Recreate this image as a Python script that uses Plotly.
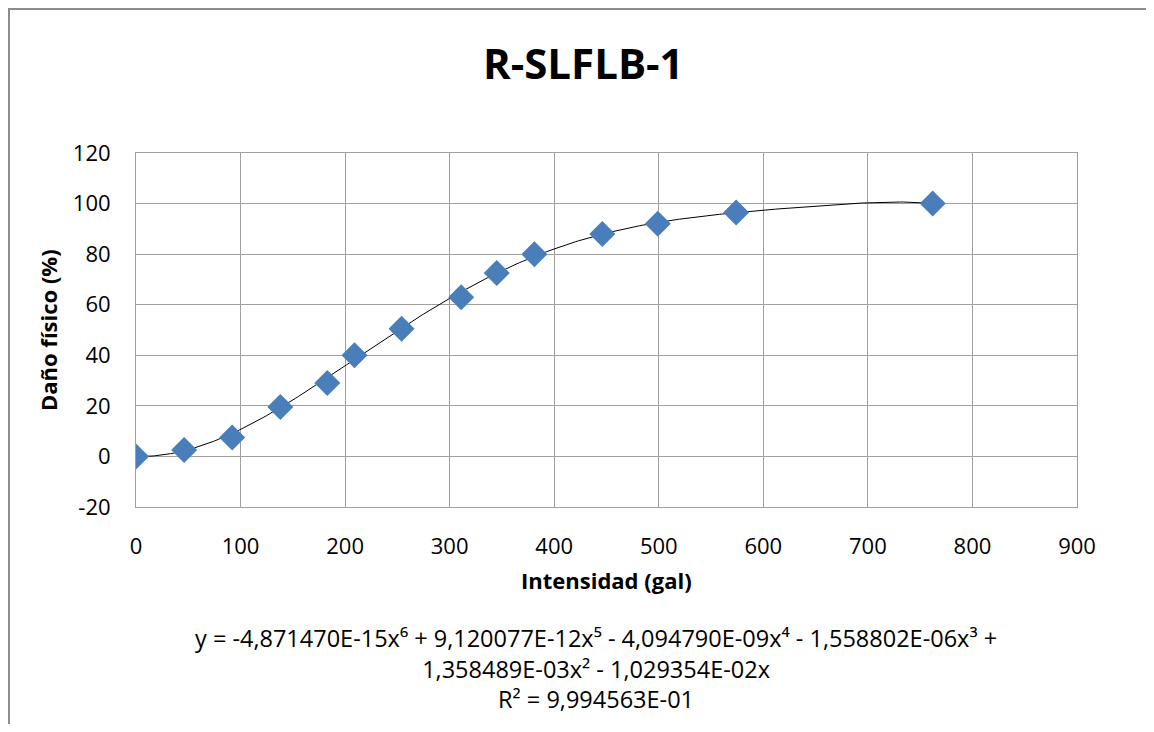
import numpy as np
import plotly.graph_objects as go

# Data
intensidad = [0, 46, 92, 138, 183, 209, 254, 311, 345, 381, 446, 499, 574, 762]
dano = [0, 2.5, 7.5, 19.5, 29, 40, 50.5, 63, 72.5, 80, 88, 92, 96.5, 100]

# Polynomial trendline coefficients (highest power first) as shown on the chart
coef = [-4.871470e-15, 9.120077e-12, -4.094790e-09, -1.558802e-06, 1.358489e-03, -1.029354e-02, 0.0]

x_ticks = [0, 100, 200, 300, 400, 500, 600, 700, 800, 900]
y_ticks = [-20, 0, 20, 40, 60, 80, 100, 120]

title_text = "R-SLFLB-1"
x_title = "Intensidad (gal)"
y_title = "Daño físico (%)"
eq_lines = [
    "y = -4,871470E-15x⁶ + 9,120077E-12x⁵ - 4,094790E-09x⁴ - 1,558802E-06x³ +",
    "1,358489E-03x² - 1,029354E-02x",
    "R² = 9,994563E-01",
]

xt = np.linspace(min(intensidad), max(intensidad), 300)
yt = np.polyval(coef, xt)

FONT = "Open Sans, Liberation Sans, Arial, sans-serif"

fig = go.Figure()
fig.add_trace(go.Scatter(x=xt, y=yt, mode="lines", line=dict(color="black", width=1),
                         hoverinfo="skip", showlegend=False))
fig.add_trace(go.Scatter(x=intensidad, y=dano, mode="markers",
                         marker=dict(symbol="diamond", size=20, color="#4A7EBB"),
                         showlegend=False))

# Figure is placed at an 8px page offset
W, H = 1138, 716
L, R, T, B = 128, 69, 145, 217
pw, ph = W - L - R, H - T - B


def px(fx):
    return (fx - L) / pw


def py(fy):
    return 1 - (fy - T) / ph


fig.update_layout(
    width=W, height=H,
    margin=dict(l=L, r=R, t=T, b=B, autoexpand=False),
    paper_bgcolor="white", plot_bgcolor="white",
    xaxis=dict(range=[0, 900], tickvals=x_ticks, ticktext=[str(v) for v in x_ticks],
               showgrid=True, gridcolor="#A0A0A0", gridwidth=1,
               zeroline=False, showline=True, linecolor="#A0A0A0", mirror=True,
               ticks="", ticklabelstandoff=20,
               tickfont=dict(family=FONT, size=22, color="black")),
    yaxis=dict(range=[-20, 120], tickvals=y_ticks, ticktext=[str(v) for v in y_ticks],
               showgrid=True, gridcolor="#A0A0A0", gridwidth=1,
               zeroline=False, showline=True, linecolor="#A0A0A0", mirror=True,
               ticks="", ticklabelstandoff=20,
               tickfont=dict(family=FONT, size=22, color="black")),
)

# Outer chart frame
fig.add_shape(type="rect", xref="paper", yref="paper",
              x0=px(1), x1=px(W + 40), y0=py(H + 40), y1=py(1),
              line=dict(color="#8C8C8C", width=2), fillcolor="rgba(0,0,0,0)", layer="below")

fig.add_annotation(text="<b>" + title_text + "</b>", xref="paper", yref="paper",
                   x=px(575), y=py(54), xanchor="center", yanchor="middle", showarrow=False,
                   font=dict(family=FONT, size=42, color="black"))
fig.add_annotation(text="<b>" + x_title + "</b>", xref="paper", yref="paper",
                   x=px(598), y=py(572), xanchor="center", yanchor="middle", showarrow=False,
                   font=dict(family=FONT, size=22, color="black"))
fig.add_annotation(text="<b>" + y_title + "</b>", xref="paper", yref="paper",
                   x=px(40), y=py(322), xanchor="center", yanchor="middle", showarrow=False,
                   textangle=-90, font=dict(family=FONT, size=22, color="black"))

fig.add_annotation(text="<br>".join(eq_lines), xref="paper", yref="paper",
                   x=px(588), y=py(660), xanchor="center", yanchor="middle", align="center",
                   showarrow=False, font=dict(family=FONT, size=23.5, color="black"))

fig.write_html("out.html")
